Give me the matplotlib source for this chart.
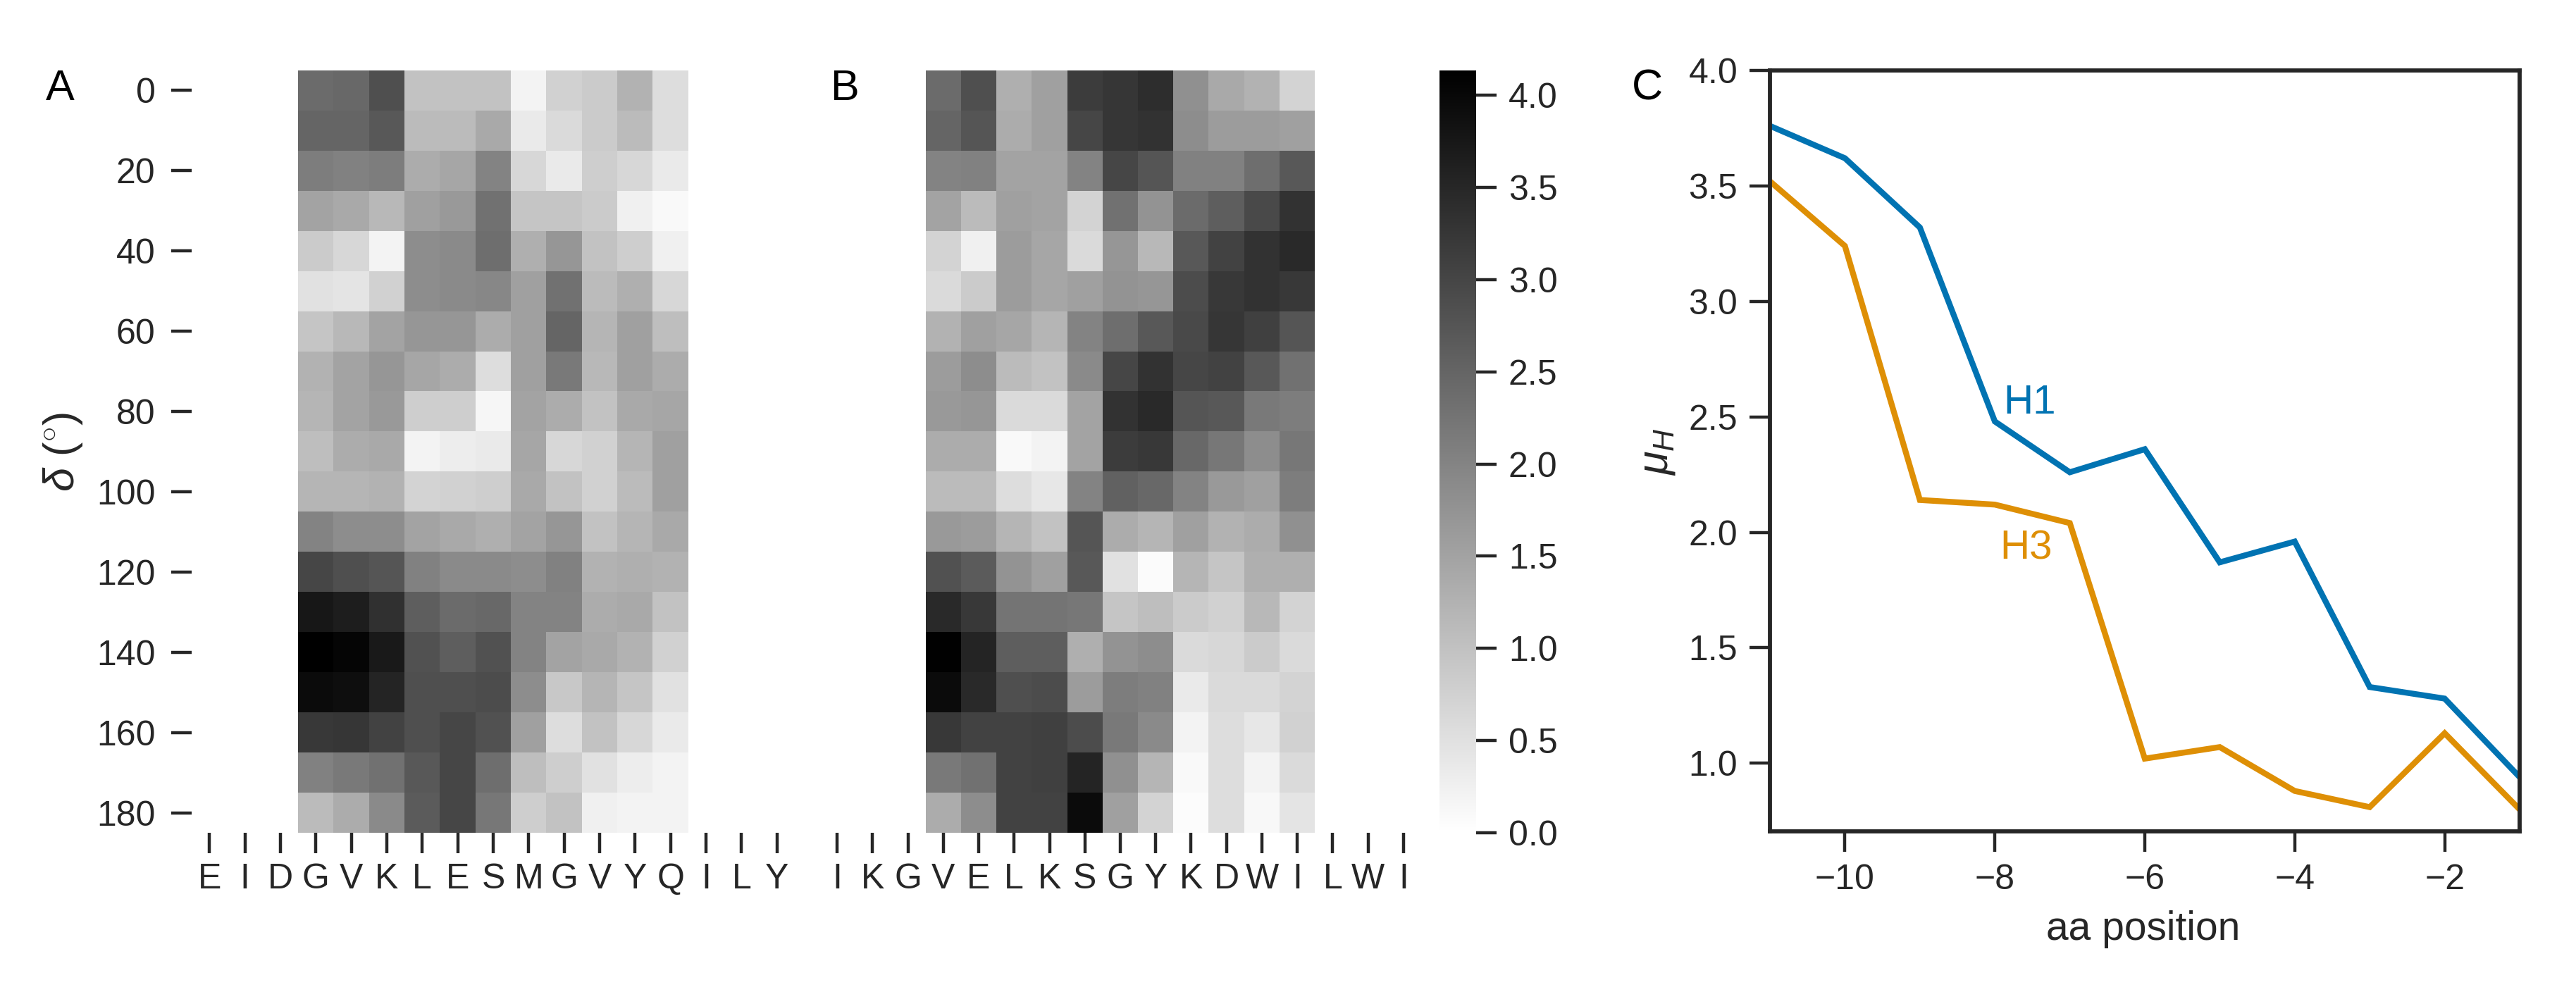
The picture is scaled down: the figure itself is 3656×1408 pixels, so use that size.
import numpy as np
import matplotlib
matplotlib.use('Agg')
import matplotlib.pyplot as plt

plt.rcParams['font.family'] = ['Liberation Sans', 'DejaVu Sans']
plt.rcParams['mathtext.fontset'] = 'custom'
plt.rcParams['mathtext.rm'] = 'Liberation Sans'
plt.rcParams['mathtext.it'] = 'Liberation Sans:italic'
plt.rcParams['text.color'] = '#262626'
plt.rcParams['axes.labelcolor'] = '#262626'
plt.rcParams['xtick.color'] = '#262626'
plt.rcParams['ytick.color'] = '#262626'

FIG_W, FIG_H = 3656, 1408

seq_a = ['E', 'I', 'D', 'G', 'V', 'K', 'L', 'E', 'S', 'M', 'G', 'V', 'Y', 'Q', 'I', 'L', 'Y']
seq_b = ['I', 'K', 'G', 'V', 'E', 'L', 'K', 'S', 'G', 'Y', 'K', 'D', 'W', 'I', 'L', 'W', 'I']
delta = [0, 10, 20, 30, 40, 50, 60, 70, 80, 90, 100, 110, 120, 130, 140, 150, 160, 170, 180]

# rows are delta, columns the 11 central residues (G..Q in A, V..I in B)
heat_a = [
    [2.40, 2.45, 2.85, 1.00, 1.00, 1.00, 0.20, 0.75, 0.85, 1.25, 0.55],
    [2.50, 2.50, 2.70, 1.10, 1.10, 1.40, 0.35, 0.60, 0.85, 1.10, 0.55],
    [2.10, 2.05, 2.10, 1.35, 1.45, 2.00, 0.65, 0.35, 0.80, 0.65, 0.35],
    [1.50, 1.40, 1.15, 1.55, 1.65, 2.30, 0.95, 0.95, 0.85, 0.25, 0.10],
    [0.85, 0.65, 0.20, 1.85, 1.90, 2.35, 1.30, 1.70, 1.00, 0.80, 0.25],
    [0.50, 0.45, 0.75, 1.85, 1.90, 1.95, 1.55, 2.30, 1.10, 1.30, 0.65],
    [0.95, 1.15, 1.50, 1.70, 1.70, 1.35, 1.55, 2.50, 1.20, 1.55, 1.05],
    [1.25, 1.50, 1.70, 1.45, 1.35, 0.55, 1.55, 2.15, 1.15, 1.55, 1.35],
    [1.20, 1.50, 1.65, 0.80, 0.80, 0.15, 1.50, 1.35, 1.00, 1.40, 1.45],
    [1.05, 1.35, 1.40, 0.20, 0.30, 0.35, 1.45, 0.65, 0.75, 1.20, 1.55],
    [1.20, 1.20, 1.25, 0.70, 0.75, 0.80, 1.40, 1.00, 0.75, 1.10, 1.55],
    [2.00, 1.85, 1.85, 1.50, 1.40, 1.30, 1.50, 1.70, 1.00, 1.20, 1.40],
    [3.00, 2.85, 2.75, 2.05, 1.90, 1.90, 1.85, 2.05, 1.25, 1.30, 1.25],
    [3.75, 3.65, 3.35, 2.60, 2.40, 2.45, 2.00, 2.00, 1.35, 1.40, 1.00],
    [4.13, 4.05, 3.70, 2.80, 2.60, 2.80, 2.00, 1.50, 1.40, 1.25, 0.75],
    [3.95, 3.90, 3.55, 2.85, 2.85, 2.90, 1.85, 0.90, 1.20, 0.95, 0.50],
    [3.20, 3.25, 3.05, 2.85, 3.00, 2.80, 1.55, 0.55, 1.00, 0.65, 0.35],
    [2.05, 2.15, 2.30, 2.70, 3.00, 2.35, 1.05, 0.80, 0.50, 0.30, 0.20],
    [1.10, 1.35, 1.90, 2.65, 3.00, 2.20, 0.80, 1.00, 0.25, 0.20, 0.20],
]
heat_b = [
    [2.40, 2.85, 1.30, 1.55, 3.15, 3.25, 3.40, 1.80, 1.40, 1.25, 0.70],
    [2.50, 2.75, 1.35, 1.55, 3.00, 3.25, 3.30, 1.85, 1.60, 1.60, 1.55],
    [2.00, 2.05, 1.50, 1.50, 2.00, 3.00, 2.75, 2.05, 2.05, 2.35, 2.70],
    [1.50, 1.10, 1.55, 1.50, 0.70, 2.30, 1.75, 2.40, 2.60, 2.95, 3.30],
    [0.70, 0.25, 1.60, 1.45, 0.60, 1.70, 1.15, 2.70, 3.05, 3.30, 3.45],
    [0.60, 0.85, 1.60, 1.45, 1.55, 1.75, 1.70, 2.90, 3.20, 3.30, 3.20],
    [1.25, 1.55, 1.45, 1.20, 2.00, 2.35, 2.70, 2.95, 3.25, 3.10, 2.75],
    [1.60, 1.85, 1.10, 1.00, 1.90, 3.00, 3.30, 3.00, 3.05, 2.70, 2.30],
    [1.65, 1.70, 0.60, 0.60, 1.50, 3.30, 3.45, 2.75, 2.70, 2.15, 2.10],
    [1.35, 1.35, 0.10, 0.20, 1.50, 3.15, 3.20, 2.45, 2.20, 1.85, 2.20],
    [1.10, 1.10, 0.55, 0.40, 2.00, 2.55, 2.45, 2.00, 1.65, 1.55, 2.10],
    [1.65, 1.60, 1.20, 1.00, 2.75, 1.35, 1.20, 1.55, 1.25, 1.35, 1.80],
    [2.80, 2.65, 1.75, 1.55, 2.70, 0.50, 0.07, 1.20, 0.95, 1.30, 1.30],
    [3.45, 3.20, 2.25, 2.25, 2.20, 0.95, 1.05, 0.85, 0.75, 1.15, 0.70],
    [4.10, 3.55, 2.60, 2.60, 1.30, 1.75, 1.85, 0.60, 0.65, 0.85, 0.60],
    [3.95, 3.45, 2.85, 2.90, 1.60, 2.10, 2.05, 0.35, 0.60, 0.60, 0.70],
    [3.20, 3.05, 3.05, 3.10, 2.90, 2.15, 1.90, 0.20, 0.55, 0.40, 0.75],
    [2.15, 2.30, 3.05, 3.10, 3.55, 1.80, 1.20, 0.10, 0.55, 0.20, 0.60],
    [1.35, 1.85, 3.05, 3.05, 3.95, 1.55, 0.70, 0.05, 0.55, 0.12, 0.45],
]

positions = [-11, -10, -9, -8, -7, -6, -5, -4, -3, -2, -1]
mu_h1 = [3.76, 3.62, 3.32, 2.48, 2.26, 2.36, 1.87, 1.96, 1.33, 1.28, 0.94]
mu_h3 = [3.52, 3.24, 2.14, 2.12, 2.04, 1.02, 1.07, 0.88, 0.81, 1.13, 0.80]

VMAX = 4.134
TICK_FS = 18


def px_axes(fig, left, top, right, bottom):
    return fig.add_axes([left / FIG_W, 1 - bottom / FIG_H,
                         (right - left) / FIG_W, (bottom - top) / FIG_H])


def draw_heat(ax, values, seq, show_y):
    # the outer residues have no data, pad them so all 17 ticks stay on the axis
    grid = np.full((len(delta), len(seq)), np.nan)
    grid[:, 3:14] = np.array(values)
    im = ax.imshow(grid, cmap='gray_r', vmin=0, vmax=VMAX, aspect='auto',
                   interpolation='nearest')
    for s in ax.spines.values():
        s.set_visible(False)
    ax.set_xticks(np.arange(len(seq)))
    ax.set_xticklabels(seq, fontsize=TICK_FS)
    ax.tick_params(axis='x', length=10.5, width=1.6, pad=5)
    if show_y:
        ax.set_yticks(np.arange(0, len(delta), 2))
        ax.set_yticklabels(delta[::2], fontsize=TICK_FS)
        ax.tick_params(axis='y', length=10.5, width=1.6, pad=8)
    else:
        ax.set_yticks([])
    return im


fig = plt.figure(figsize=(FIG_W / 200, FIG_H / 200), dpi=200)

ax_a = px_axes(fig, 272, 100, 1128, 1182)
im = draw_heat(ax_a, heat_a, seq_a, True)

ax_b = px_axes(fig, 1163, 100, 2017, 1182)
draw_heat(ax_b, heat_b, seq_b, False)

cax = px_axes(fig, 2043, 100, 2095, 1182)
cbar = fig.colorbar(im, cax=cax)
cbar.outline.set_visible(False)
cbar.set_ticks([0, 0.5, 1, 1.5, 2, 2.5, 3, 3.5, 4])
cbar.ax.tick_params(length=10.5, width=1.6, pad=6, labelsize=TICK_FS)

ax_c = px_axes(fig, 2512, 100, 3576, 1180)
ax_c.plot(positions, mu_h1, color='#0173b2', lw=3, solid_joinstyle='miter')
ax_c.plot(positions, mu_h3, color='#de8f05', lw=3, solid_joinstyle='miter')
ax_c.set_xlim(-11, -1)
ax_c.set_ylim(0.705, 4.0)
ax_c.set_xticks([-10, -8, -6, -4, -2])
ax_c.set_yticks([1, 1.5, 2, 2.5, 3, 3.5, 4])
ax_c.tick_params(length=10.5, width=1.6, labelsize=TICK_FS, pad=6)
for s in ax_c.spines.values():
    s.set_linewidth(2.1)
    s.set_color('#262626')
ax_c.text(-7.89, 2.56, 'H1', color='#0173b2', fontsize=21, va='center')
ax_c.text(-7.93, 1.93, 'H3', color='#de8f05', fontsize=21, va='center')

fig.text(85 / FIG_W, 1 - 126 / FIG_H, 'A', fontsize=22, ha='center', va='center', color='black')
fig.text(1199 / FIG_W, 1 - 126 / FIG_H, 'B', fontsize=22, ha='center', va='center', color='black')
fig.text(2338 / FIG_W, 1 - 126 / FIG_H, 'C', fontsize=22, ha='center', va='center', color='black')
fig.text(89 / FIG_W, 1 - 641 / FIG_H, r'$\delta$ ($^{\circ}$)', fontsize=22,
         rotation=90, ha='center', va='center')
fig.text(2352 / FIG_W, 1 - 641 / FIG_H, r'$\mu_H$', fontsize=22,
         rotation=90, ha='center', va='center')
fig.text(3042 / FIG_W, 1 - 1319 / FIG_H, 'aa position', fontsize=20.5,
         ha='center', va='center')

fig.savefig('out.png', dpi=200)
